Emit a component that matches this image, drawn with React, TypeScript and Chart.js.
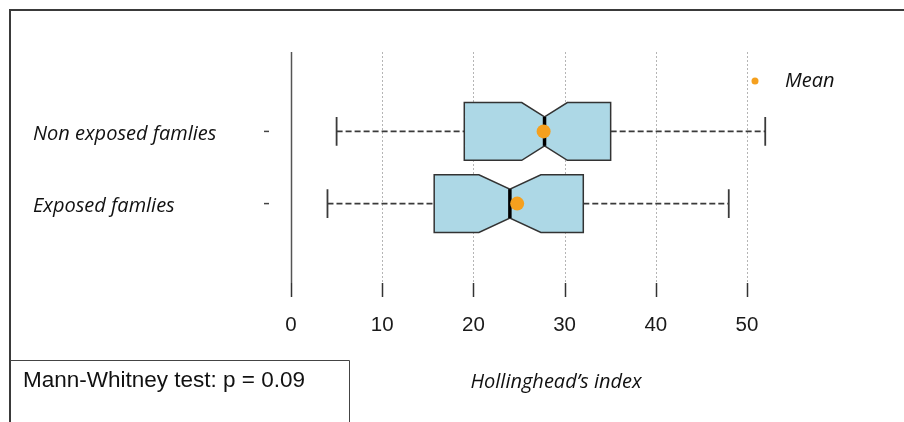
import React, { useEffect, useRef } from "react";
import { Chart, registerables } from "chart.js";

Chart.register(...registerables);

// ---- data ----
const groupLabels = ["Exposed famlies", "Non exposed famlies"];
const groupPos = [1, 2];
const whiskerLow = [4.0, 5.0];
const q1 = [15.7, 19.0];
const median = [24.0, 27.8];
const q3 = [32.05, 35.05];
const whiskerHigh = [48.0, 52.0];
const notchLow = [20.6, 25.3];
const notchHigh = [27.4, 30.3];
const means = [24.8, 27.7];
const xTicks = [0, 10, 20, 30, 40, 50];
const xTitle = "Hollinghead’s index";
const legendLabel = "Mean";
const testNote = "Mann-Whitney test: p = 0.09";

const ORANGE = "#F5A01E";
const BOX_FILL = "#ADD8E6";
const LINE = "#333333";
const ITALIC = "italic 20px 'Open Sans', Lato, sans-serif";
const ARIAL = "'Liberation Sans', Arial, sans-serif";

function plainText(
  ctx: CanvasRenderingContext2D,
  text: string,
  x: number,
  y: number,
  size: number,
  align: CanvasTextAlign,
  color: string
) {
  ctx.save();
  ctx.font = `${size}px ${ARIAL}`;
  ctx.fillStyle = color;
  ctx.textAlign = align;
  ctx.textBaseline = "middle";
  ctx.fillText(text, x, y);
  ctx.restore();
}

const boxPlugin = {
  id: "boxPlugin",
  beforeDatasetsDraw(chart: any) {
    const ctx: CanvasRenderingContext2D = chart.ctx;
    const xs = chart.scales.x;
    const ys = chart.scales.y;
    const area = chart.chartArea;
    const X = (v: number) => xs.getPixelForValue(v);
    const Y = (v: number) => ys.getPixelForValue(v);

    ctx.save();
    // outer frame
    ctx.strokeStyle = "#3a3a3a";
    ctx.lineWidth = 2;
    ctx.beginPath();
    ctx.moveTo(10, 422);
    ctx.lineTo(10, 10);
    ctx.lineTo(904, 10);
    ctx.stroke();

    // grid lines (dotted) + ticks + labels
    xTicks.forEach((t) => {
      const px = Math.round(X(t)) + 0.5;
      ctx.beginPath();
      if (t === 0) {
        ctx.setLineDash([]);
        ctx.strokeStyle = "#555555";
        ctx.lineWidth = 1.5;
      } else {
        ctx.setLineDash([2, 2]);
        ctx.strokeStyle = "#b5b5b5";
        ctx.lineWidth = 1;
      }
      ctx.moveTo(px, area.top);
      ctx.lineTo(px, area.bottom);
      ctx.stroke();
      ctx.setLineDash([]);
      ctx.strokeStyle = "#333333";
      ctx.lineWidth = 1.5;
      ctx.beginPath();
      ctx.moveTo(px, area.bottom);
      ctx.lineTo(px, area.bottom + 14);
      ctx.stroke();
      plainText(ctx, String(t), X(t), area.bottom + 42, 20.5, "center", "#1a1a1a");
    });

    // y labels and tick dashes
    groupPos.forEach((p, i) => {
      const py = Y(p);
      ctx.font = ITALIC;
      ctx.fillStyle = "#111111";
      ctx.textAlign = "left";
      ctx.textBaseline = "middle";
      ctx.fillText(groupLabels[i], 33, py + 3);
      ctx.strokeStyle = "#444444";
      ctx.lineWidth = 1.5;
      ctx.beginPath();
      ctx.moveTo(264, py);
      ctx.lineTo(269, py);
      ctx.stroke();
    });

    // boxes
    groupPos.forEach((p, i) => {
      const py = Y(p);
      const h = Y(p - 0.4) - py;
      const hn = Y(p - 0.2) - py;
      ctx.setLineDash([6, 3]);
      ctx.strokeStyle = "#3a3a3a";
      ctx.lineWidth = 1.8;
      ctx.beginPath();
      ctx.moveTo(X(whiskerLow[i]), py);
      ctx.lineTo(X(q1[i]), py);
      ctx.moveTo(X(q3[i]), py);
      ctx.lineTo(X(whiskerHigh[i]), py);
      ctx.stroke();
      ctx.setLineDash([]);
      ctx.lineWidth = 1.8;
      ctx.beginPath();
      ctx.moveTo(X(whiskerLow[i]), py - hn);
      ctx.lineTo(X(whiskerLow[i]), py + hn);
      ctx.moveTo(X(whiskerHigh[i]), py - hn);
      ctx.lineTo(X(whiskerHigh[i]), py + hn);
      ctx.stroke();
      ctx.beginPath();
      ctx.moveTo(X(q1[i]), py - h);
      ctx.lineTo(X(notchLow[i]), py - h);
      ctx.lineTo(X(median[i]), py - hn);
      ctx.lineTo(X(notchHigh[i]), py - h);
      ctx.lineTo(X(q3[i]), py - h);
      ctx.lineTo(X(q3[i]), py + h);
      ctx.lineTo(X(notchHigh[i]), py + h);
      ctx.lineTo(X(median[i]), py + hn);
      ctx.lineTo(X(notchLow[i]), py + h);
      ctx.lineTo(X(q1[i]), py + h);
      ctx.closePath();
      ctx.fillStyle = BOX_FILL;
      ctx.fill();
      ctx.strokeStyle = LINE;
      ctx.lineWidth = 1.5;
      ctx.stroke();
      ctx.strokeStyle = "#000000";
      ctx.lineWidth = 3.5;
      ctx.beginPath();
      ctx.moveTo(X(median[i]), py - hn);
      ctx.lineTo(X(median[i]), py + hn);
      ctx.stroke();
    });

    // legend
    ctx.fillStyle = ORANGE;
    ctx.beginPath();
    ctx.arc(755, 81, 3.5, 0, Math.PI * 2);
    ctx.fill();
    ctx.font = ITALIC;
    ctx.fillStyle = "#111111";
    ctx.textAlign = "left";
    ctx.textBaseline = "middle";
    ctx.fillText(legendLabel, 785, 81);

    // x title
    ctx.textAlign = "center";
    ctx.fillText(xTitle, 556, 382);

    // test note box
    ctx.strokeStyle = "#444444";
    ctx.lineWidth = 1;
    ctx.beginPath();
    ctx.moveTo(10, 360.5);
    ctx.lineTo(349.5, 360.5);
    ctx.lineTo(349.5, 422);
    ctx.stroke();
    ctx.restore();
  },
  afterDraw(chart: any) {
    const ctx: CanvasRenderingContext2D = chart.ctx;
    plainText(ctx, testNote, 23, 381, 22.5, "left", "#111111");
  },
};

export default function App() {
  const ref = useRef<HTMLCanvasElement | null>(null);
  useEffect(() => {
    document.body.style.margin = "0";
    const canvas = ref.current!;
    const chart = new Chart(canvas, {
      type: "scatter",
      data: {
        datasets: [
          {
            label: legendLabel,
            data: groupPos.map((p, i) => ({ x: means[i], y: p })),
            backgroundColor: ORANGE,
            borderWidth: 0,
            pointRadius: 7,
            pointHoverRadius: 7,
          },
        ],
      },
      options: {
        animation: false,
        responsive: false,
        events: [],
        layout: { padding: { left: 291, right: 157, top: 52, bottom: 139 } },
        plugins: { legend: { display: false }, tooltip: { enabled: false } },
        scales: {
          x: { type: "linear", min: 0, max: 50, display: false },
          y: { type: "linear", min: -0.1, max: 3.1, display: false },
        },
      },
      plugins: [boxPlugin],
    });
    return () => chart.destroy();
  }, []);
  return (
    <div style={{ width: 904, height: 422, background: "#fff" }}>
      <canvas ref={ref} width={904} height={422} style={{ display: "block" }} />
    </div>
  );
}
